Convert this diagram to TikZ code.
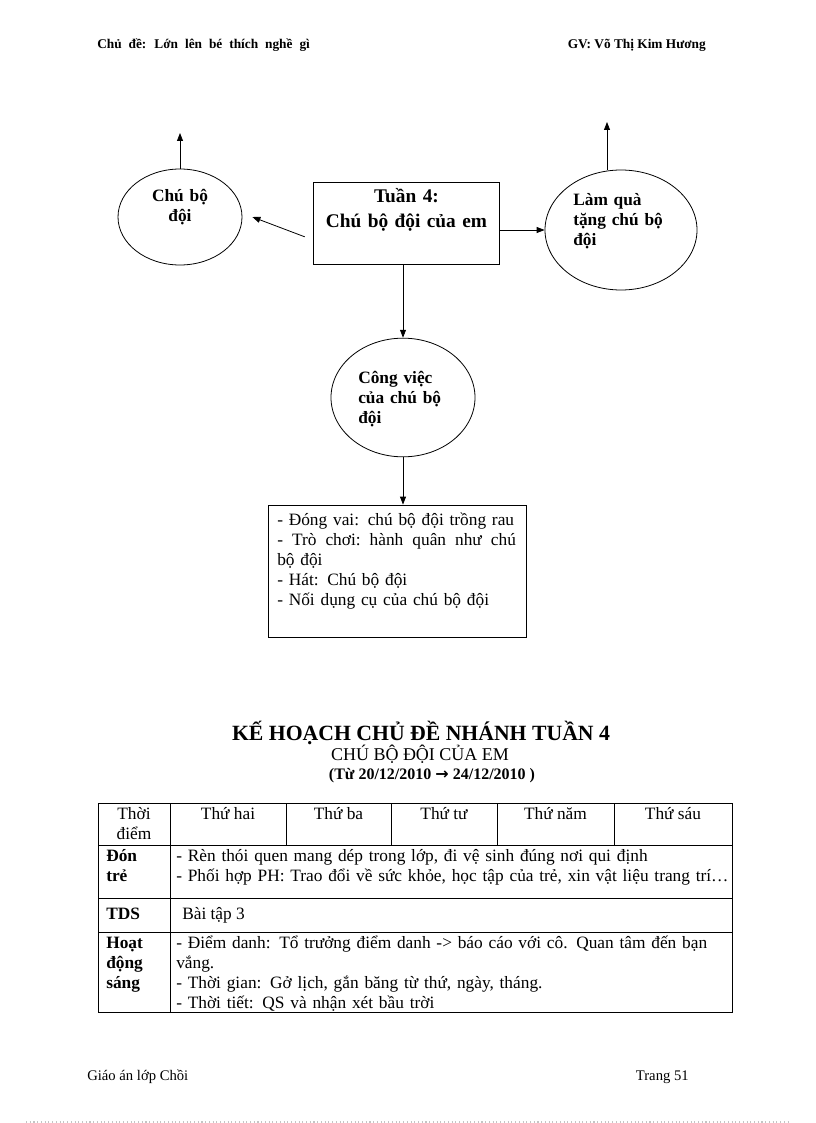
\documentclass[tikz,border=0pt]{standalone}
\usepackage{fontspec}
\setmainfont{Liberation Serif}
\newfontfamily\arrowfont{DejaVu Sans}
\usetikzlibrary{shapes.geometric,arrows.meta}

\definecolor{pgink}{HTML}{000000}
\definecolor{pgdots}{HTML}{C4C4C4}
\newcommand{\hdfont}{\fontsize{10}{12}\selectfont\bfseries}
\newcommand{\txtfont}{\fontsize{13}{15}\selectfont}
\newcommand{\bubfont}{\fontsize{13}{15}\selectfont\bfseries}
\newcommand{\ttlfont}{\fontsize{14.5}{18.75}\selectfont\bfseries}
\newcommand{\ftfont}{\fontsize{11}{13}\selectfont}

\begin{document}
\begin{tikzpicture}[
  x=0.75pt, y=-0.75pt,
  font=\txtfont,
  inner sep=0pt,
  link/.style={draw=pgink, line width=0.6pt, -{Triangle[length=6pt,width=4.5pt]}},
  bubble/.style={ellipse, draw=pgink, line width=0.6pt},
  frame/.style={rectangle, draw=pgink, line width=0.6pt},
  rule/.style={draw=pgink, line width=0.6pt}
]

  \useasboundingbox (0,0) rectangle (816,1123);

  % --------------------------------------------------------------------
  % Page header
  % --------------------------------------------------------------------

  \node[anchor=base west, font=\hdfont] (hdleft) at (97,49)
    {\spaceskip=5.2pt\relax Chủ đề: Lớn lên bé thích nghề gì};
  \node[anchor=base east, font=\hdfont] (hdright) at (706,49) {GV: Võ Thị Kim Hương};

  % --------------------------------------------------------------------
  % Mind map
  % --------------------------------------------------------------------

  \node[frame, minimum width=140pt, minimum height=62pt] (tuan) at (406.5,223.5) {};
  \node[anchor=base, text width=140pt, align=center, font=\ttlfont] (tuanlbl) at (406.5,203)
    {Tuần 4:\\Chú bộ đội của em};

  \node[bubble, minimum width=93pt, minimum height=72pt] (cbd) at (180,217) {};
  \node[anchor=base, text width=60pt, align=center, font=\bubfont] (cbdlbl) at (180,202)
    {Chú bộ\\đội};

  \node[bubble, minimum width=114pt, minimum height=90pt] (lam) at (621,230) {};
  \node[anchor=base west, text width=85pt, align=left, font=\bubfont] (lamlbl) at (573,205)
    {Làm quà\\tặng chú bộ\\đội};

  \node[bubble, minimum width=108pt, minimum height=89pt] (cv) at (403,397.5) {};
  \node[anchor=base west, text width=80pt, align=left, font=\bubfont] (cvlbl) at (358,383)
    {Công việc\\của chú bộ\\đội};

  \node[frame, minimum width=194pt, minimum height=99pt] (tasks) at (397.5,571) {};
  \node[anchor=base west, text width=179pt, align=left] (taskslbl) at (277,525)
    {- Đóng vai:  chú bộ đội trồng rau\\
     -\hfill Trò\hfill chơi:\hfill hành\hfill quân\hfill như\hfill chú\\
     bộ đội\\
     - Hát:  Chú bộ đội\\
     - Nối dụng  cụ của chú bộ đội};

  \coordinate (cbdup) at (180,133);
  \coordinate (lamup) at (607,122);

  \draw[link] (cbd.north) -- (cbdup);
  \draw[link] (lamup |- lam.north) -- (lamup);
  \draw[link] ([xshift=-6pt,yshift=-10pt]tuan.west) -- ([xshift=7.5pt]cbd.east);
  \draw[link] (tuan.east |- lam.west) -- (lam.west);
  \draw[link] (tuan.south -| cv.north) -- (cv.north);
  \draw[link] (cv.south) -- (cv.south |- tasks.north);

  % --------------------------------------------------------------------
  % Plan title
  % --------------------------------------------------------------------

  \node[anchor=base, font=\fontsize{16.3}{18}\selectfont\bfseries] (plan) at (421,740)
    {KẾ HOẠCH CHỦ ĐỀ NHÁNH TUẦN 4};
  \node[anchor=base, font=\fontsize{13.5}{15}\selectfont] (plansub) at (420,760)
    {CHÚ BỘ ĐỘI CỦA EM};
  \node[anchor=base, font=\fontsize{12}{14}\selectfont\bfseries] (plandate) at (432,779)
    {(Từ 20/12/2010 {\arrowfont\bfseries →} 24/12/2010 )};

  % --------------------------------------------------------------------
  % Plan table
  % --------------------------------------------------------------------

  \draw[rule] (98,803) rectangle (732,1012);
  \foreach \yy in {845,898,932}
    \draw[rule] (98,\yy) -- (732,\yy);
  \draw[rule] (170,803) -- (170,1012);
  \foreach \xx in {286,391,497,614}
    \draw[rule] (\xx,803) -- (\xx,845);

  \node[anchor=base, text width=60pt, align=center] (hdtime) at (134,819) {Thời\\điểm};
  \foreach \cx/\day [count=\i] in {228/Thứ hai, 338.5/Thứ ba, 444/Thứ tư, 555.5/Thứ năm, 673/Thứ sáu}
    \node[anchor=base] (day\i) at (\cx,819) {\day};

  \node[anchor=base west, text width=50pt, align=left, font=\txtfont\bfseries] (rowdon) at (106,861)
    {Đón\\trẻ};
  \node[anchor=base west, font=\txtfont\bfseries] (rowtds) at (106,919) {TDS};
  \node[anchor=base west, text width=50pt, align=left, font=\txtfont\bfseries] (rowhd) at (106,948)
    {Hoạt\\động\\sáng};

  \node[anchor=base west, text width=420pt, align=left] (celldon) at (176,861)
    {- Rèn thói quen mang  dép trong lớp, đi vệ sinh đúng nơi qui định\\
     - Phối hợp PH: Trao đổi về sức khỏe, học tập của trẻ, xin vật  liệu trang trí…};
  \node[anchor=base west] (celltds) at (182,919) {Bài tập 3};
  \node[anchor=base west, text width=420pt, align=left] (cellhd) at (176,948)
    {- Điểm danh:  Tổ trưởng điểm danh  -> báo cáo với  cô. Quan tâm đến bạn\\
     vắng.\\
     - Thời gian:  Gở lịch, gắn băng từ thứ, ngày,  tháng.\\
     - Thời tiết:  QS và nhận xét bầu trời};

  % --------------------------------------------------------------------
  % Page footer
  % --------------------------------------------------------------------

  \node[anchor=base west, font=\ftfont] (ftleft) at (87,1080) {Giáo  án lớp Chồi};
  \node[anchor=base east, font=\ftfont] (ftright) at (689,1080) {Trang  51};
  \draw[pgdots, dotted, line width=0.8pt] (26,1122) -- (790,1122);

\end{tikzpicture}
\end{document}
